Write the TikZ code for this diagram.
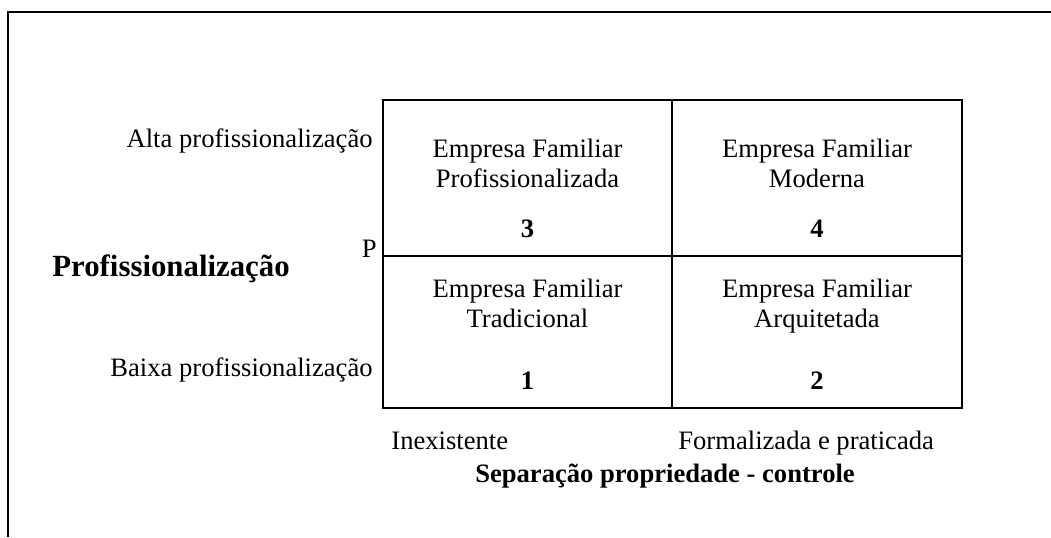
\documentclass[tikz,border=0pt]{standalone}
\usepackage{fontspec}
\setmainfont{Liberation Serif}
\begin{document}
\begin{tikzpicture}[x=0.5pt,y=-0.5pt,
    txt/.style={inner sep=0pt, anchor=base, font=\fontsize{13.3}{15}\selectfont},
    num/.style={txt, font=\fontsize{13.3}{15}\selectfont\bfseries}]
    \useasboundingbox (0,0) rectangle (1051,537);
    \draw[line width=1pt] (8,537) -- (8,12) -- (1051,12);

    % the four quadrants
    \draw[line width=1pt] (383,100) rectangle (962,408);
    \draw[line width=1pt] (672,100) -- (672,408);
    \draw[line width=1pt] (383,256) -- (962,256);

\node[txt] (q3a) at (527.5,157) {Empresa Familiar};
\node[txt] (q3b) at (527.5,187) {Profissionalizada};
\node[num] (q3) at (527.5,237) {3};
\node[txt] (q4a) at (817,157) {Empresa Familiar};
\node[txt] (q4b) at (817,187) {Moderna};
\node[num] (q4) at (817,237) {4};
\node[txt] (q1a) at (527.5,297) {Empresa Familiar};
\node[txt] (q1b) at (527.5,327) {Tradicional};
\node[num] (q1) at (527.5,389) {1};
\node[txt] (q2a) at (817,297) {Empresa Familiar};
\node[txt] (q2b) at (817,327) {Arquitetada};
\node[num] (q2) at (817,389) {2};

    % eixo vertical
\node[txt, anchor=base east] (alta) at (373,147) {Alta profissionalização};
\node[txt, anchor=base east] (baixa) at (373,376) {Baixa profissionalização};
\node[txt, anchor=base east] (p) at (377,257) {P};
\node[txt, anchor=base west, font=\fontsize{15.4}{18}\selectfont\bfseries] (prof) at (52,276) {Profissionalização};

    % eixo horizontal
\node[txt, anchor=base west] (inex) at (391,449) {Inexistente};
\node[txt, anchor=base west] (form) at (678,449) {Formalizada e praticada};
\node[num] (sep) at (665,482) {Separação propriedade - controle};

\end{tikzpicture}
\end{document}
